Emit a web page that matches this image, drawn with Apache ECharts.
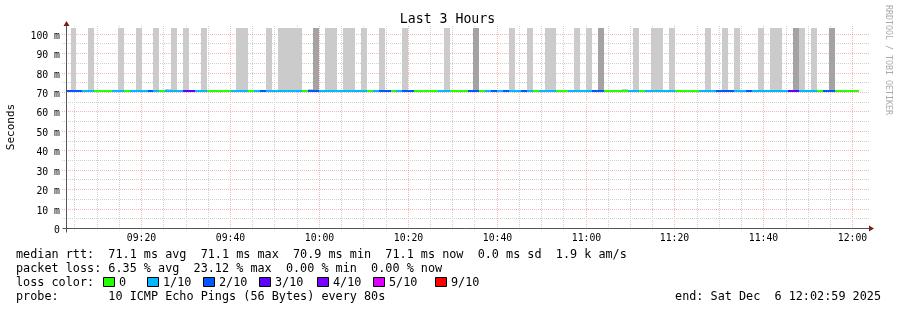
<!DOCTYPE html>
<html><head><meta charset="utf-8">
<script src="https://cdn.jsdelivr.net/npm/echarts@6/dist/echarts.min.js"></script>
<style>html,body{margin:0;padding:0;background:#fff;}#c{width:897px;height:310px;}</style>
</head><body><div id="c"></div>
<script>
// ---------------- data ----------------
const chartTitle = 'Last 3 Hours';
const yAxisName = 'Seconds';
const watermark = 'RRDTOOL / TOBI OETIKER';
const startTime = '09:02:59';
const endTime = '12:02:59';
const firstSampleTime = '09:04:00';
const stepSeconds = 80;
const xTickLabels = ['09:20','09:40','10:00','10:20','10:40','11:00','11:20','11:40','12:00'];
const yTickValues = [0,10,20,30,40,50,60,70,80,90,100];
const yTickLabels = ['0','10 m','20 m','30 m','40 m','50 m','60 m','70 m','80 m','90 m','100 m'];
const yTopValue = 103.19;

// median rtt per 80 s sample (ms)
const medianRtt = [
71.1,71.1,71.1,71.1,71.1,71.1,71.1,71.1,71.1,71.1,
71.1,71.1,71.1,71.1,71.1,71.1,71.1,71.1,71.1,71.1,
71.1,71.1,71.1,71.1,71.1,71.1,71.0,71.1,71.1,71.1,
71.1,71.1,71.1,71.1,71.1,71.1,71.1,71.1,71.1,71.1,
71.1,71.0,71.1,71.1,71.1,71.1,71.1,71.1,71.1,71.1,
71.1,71.1,71.1,71.1,71.1,71.1,71.1,71.1,71.1,71.1,
71.1,71.1,70.9,71.1,71.1,71.1,71.1,71.1,71.1,71.1,
71.1,71.1,71.1,71.1,71.1,71.1,71.1,71.1,71.1,71.1,
71.1,71.1,71.1,71.1,71.1,71.1,71.1,71.1,71.1,71.1,
71.1,71.1,71.1,71.1,71.0,71.1,71.1,71.1,71.1,71.1,
71.1,71.1,71.1,71.1,71.1,71.1,71.1,71.1,71.1,71.1,
71.1,71.1,71.1,71.1,71.1,71.1,71.1,71.1,71.1,71.1,
71.1,71.1,71.1,71.1,71.1,71.1,71.1,71.1,71.1,71.1,
71.1,71.1,71.1,71.1
];
// loss colour index of the median line per sample (0 = 0, 1 = 1/10, 2 = 2/10, 3 = 3/10 ...)
const lossLevel = [
2,2,2,1,1,0,0,0,1,1,
0,1,1,1,2,1,0,1,1,1,
3,3,1,1,0,0,0,0,1,1,
1,0,1,2,1,1,1,1,1,1,
0,2,2,1,1,1,1,1,1,1,
1,0,1,2,2,0,1,2,2,0,
0,0,0,1,1,0,0,0,2,2,
0,1,2,1,2,1,1,2,1,0,
1,1,1,0,0,1,1,1,1,2,
2,0,0,0,0,1,1,0,1,1,
1,1,1,0,0,0,0,1,1,1,
2,2,2,1,1,2,1,1,1,1,
1,1,3,3,1,1,1,0,2,2,
0,0,0,0
];
// lost pings per sample shown as smoke
const lostPings = [
0,1,0,0,1,0,0,0,0,1,
0,0,1,0,0,1,0,0,1,0,
1,0,0,1,0,0,0,0,0,1,
1,0,0,0,1,0,1,1,1,1,
0,0,2,0,1,1,0,1,1,0,
1,0,0,1,0,0,0,1,0,0,
0,0,0,0,1,0,0,0,0,2,
0,0,0,0,0,1,0,0,1,0,
0,1,1,0,0,0,1,0,1,0,
2,0,0,0,0,0,1,0,0,1,
1,0,1,0,0,0,0,0,1,0,
0,1,0,1,0,0,0,1,0,1,
1,0,0,2,1,0,1,0,0,2,
0,0,0,0
];
// samples whose slowest ping sits slightly above the median
const spreadCells = [17, 41, 94];
const spreadTop = [71.8, 71.8, 71.8];

const lossLabels = ['0','1/10','2/10','3/10','4/10','5/10','9/10'];
const medianStats = ['71.1 ms avg','71.1 ms max','70.9 ms min','71.1 ms now','0.0 ms sd','1.9 k am/s'];
const lossStats = ['6.35 % avg','23.12 % max','0.00 % min','0.00 % now'];
const probeText = '10 ICMP Echo Pings (56 Bytes) every 80s';
const endText = 'end: Sat Dec  6 12:02:59 2025';

// ---------------- styles / layout ----------------
const lossColors = ['#26ff00','#00b8ff','#0059ff','#5e00ff','#7e00ff','#dd00ff','#ff0000'];
const smokeColors = [null, '#cbcbcb', '#a3a3a3'];
const spreadColor = '#c8c8c8';
const gridColor = '#d0d0d0';
const mgridColor = 'rgba(240,110,110,0.5)';
const axisColor = '#555555';
const arrowColor = '#7d1c1c';
const MONO = '"DejaVu Sans Mono", monospace';
const legendX = 16;
const legendRowsY = [254.5, 268.5, 282.5, 296.5];
const swatchX = [103, 147, 203, 259, 317, 373, 435];

// ---------------- helpers ----------------
const toSec = s => { const p = s.split(':').map(Number); return p[0]*3600 + p[1]*60 + (p[2] || 0); };
const xMin = toSec(startTime), xMax = toSec(endTime);
const t0 = toSec(firstSampleTime);
const cells = medianRtt.map((m, i) => [t0 + stepSeconds*(i-1), m, t0 + stepSeconds*i, lossLevel[i], lostPings[i]]);
const spreadData = spreadCells.map((c, i) => [t0 + stepSeconds*(c-1), spreadTop[i], t0 + stepSeconds*c, medianRtt[c]]);
const xGrid = [];
for (let t = Math.ceil(xMin/300)*300; t <= xMax; t += 300) xGrid.push([t, t % 1200 === 0 ? 1 : 0]);
const yGrid = [];
for (let v = 5; v <= 100; v += 5) yGrid.push([xMin, v, v % 10 === 0 ? 1 : 0]);

const chart = echarts.init(document.getElementById('c'), null, {renderer: 'canvas', width: 897, height: 310});

const option = {
  animation: false,
  backgroundColor: '#ffffff',
  grid: {left: 66, top: 28, width: 800, height: 200.5, show: false},
  xAxis: {type: 'value', min: xMin, max: xMax, show: false},
  yAxis: {type: 'value', min: 0, max: yTopValue, show: false},
  series: [
    { // vertical grid
      type: 'custom', silent: true, z: 1, data: xGrid,
      renderItem(params, api) {
        const cs = params.coordSys;
        const x = Math.floor(api.coord([api.value(0), 0])[0]) + 0.5;
        return {type: 'line', shape: {x1: x, y1: cs.y - 2, x2: x, y2: cs.y + cs.height + 2},
          style: {stroke: api.value(1) ? mgridColor : gridColor, lineWidth: 1, lineDash: [1, 1]}};
      }
    },
    { // horizontal grid
      type: 'custom', silent: true, z: 1, data: yGrid,
      renderItem(params, api) {
        const cs = params.coordSys;
        const y = Math.floor(api.coord([xMin, api.value(1)])[1]) + 0.5;
        return {type: 'line', shape: {x1: cs.x - 4, y1: y, x2: cs.x + cs.width + 3, y2: y},
          style: {stroke: api.value(2) ? mgridColor : gridColor, lineWidth: 1, lineDash: [1, 1]}};
      }
    },
    { // smoke (lost pings)
      type: 'custom', silent: true, z: 2, data: cells,
      renderItem(params, api) {
        const lost = api.value(4);
        if (!lost) return null;
        const cs = params.coordSys;
        const a = api.coord([api.value(0), api.value(1)]);
        const b = api.coord([api.value(2), api.value(1)]);
        const x0 = Math.max(Math.round(a[0]), cs.x), x1 = Math.round(b[0]);
        const yb = Math.floor(a[1]);
        return {type: 'rect', shape: {x: x0, y: cs.y, width: x1 - x0, height: yb - cs.y},
          style: {fill: smokeColors[Math.min(lost, 2)]}};
      }
    },
    { // small ping spread
      type: 'custom', silent: true, z: 2, data: spreadData,
      renderItem(params, api) {
        const a = api.coord([api.value(0), api.value(1)]);
        const b = api.coord([api.value(2), api.value(3)]);
        const x0 = Math.round(a[0]), x1 = Math.round(b[0]);
        const yt = Math.round(a[1]), yb = Math.floor(b[1]);
        return {type: 'rect', shape: {x: x0, y: yt, width: x1 - x0, height: yb - yt}, style: {fill: spreadColor}};
      }
    },
    { // median line coloured by loss
      type: 'custom', silent: true, z: 3, data: cells,
      renderItem(params, api) {
        const cs = params.coordSys;
        const a = api.coord([api.value(0), api.value(1)]);
        const b = api.coord([api.value(2), api.value(1)]);
        const x0 = Math.max(Math.round(a[0]), cs.x), x1 = Math.round(b[0]);
        const y = Math.floor(a[1]);
        return {type: 'rect', shape: {x: x0, y: y, width: x1 - x0, height: 2},
          style: {fill: lossColors[api.value(3)]}};
      }
    },
    { // y tick labels
      type: 'custom', silent: true, z: 4, data: yTickValues.map((v, i) => [xMin, v, i]),
      renderItem(params, api) {
        const cs = params.coordSys;
        const y = Math.floor(api.coord([xMin, api.value(1)])[1]) + 2;
        return {type: 'text', x: cs.x - 6, y: y,
          style: {text: yTickLabels[api.value(2)], font: '9.8px ' + MONO, fill: '#000', align: 'right', verticalAlign: 'middle'}};
      }
    },
    { // x tick labels
      type: 'custom', silent: true, z: 4, data: xTickLabels.map((s, i) => [toSec(s), 0, i]),
      renderItem(params, api) {
        const cs = params.coordSys;
        const x = Math.floor(api.coord([api.value(0), 0])[0]) + 0.5;
        return {type: 'text', x: x, y: cs.y + cs.height + 10,
          style: {text: xTickLabels[api.value(2)], font: '9.8px ' + MONO, fill: '#000', align: 'center', verticalAlign: 'middle'}};
      }
    },
    { // axes with arrows
      type: 'custom', silent: true, z: 5, data: [[xMin, 0]],
      renderItem(params, api) {
        const cs = params.coordSys;
        const o = api.coord([xMin, 0]);
        const ax = Math.floor(o[0]) + 0.5, ay = Math.floor(o[1]) + 0.5;
        const right = cs.x + cs.width + 3, top = cs.y - 2;
        return {type: 'group', children: [
          {type: 'line', shape: {x1: ax, y1: ay + 4, x2: ax, y2: top}, style: {stroke: axisColor, lineWidth: 1}},
          {type: 'line', shape: {x1: ax - 4, y1: ay, x2: right, y2: ay}, style: {stroke: axisColor, lineWidth: 1}},
          {type: 'polygon', shape: {points: [[ax - 3, top], [ax + 3, top], [ax, top - 5]]}, style: {fill: arrowColor}},
          {type: 'polygon', shape: {points: [[right, ay - 3], [right, ay + 3], [right + 5, ay]]}, style: {fill: arrowColor}}
        ]};
      }
    }
  ],
  graphic: (function () {
    const g = [];
    const font = '11.8px ' + MONO;
    g.push({type: 'text', x: 447.5, y: 19.5, style: {text: chartTitle, font: '13.2px ' + MONO, fill: '#000', align: 'center', verticalAlign: 'middle'}});
    g.push({type: 'text', x: 11, y: 127, rotation: Math.PI/2, style: {text: yAxisName, font: '11px ' + MONO, fill: '#000', align: 'center', verticalAlign: 'middle'}});
    g.push({type: 'text', x: 888.5, y: 60, rotation: -Math.PI/2, style: {text: watermark, font: '8.3px ' + MONO, fill: '#aaaaaa', align: 'center', verticalAlign: 'middle'}});
    g.push({type: 'text', x: legendX, y: legendRowsY[0], style: {text: 'median rtt:  ' + medianStats.join('  '), font: font, fill: '#000', verticalAlign: 'middle'}});
    g.push({type: 'text', x: legendX, y: legendRowsY[1], style: {text: 'packet loss: ' + lossStats.join('  '), font: font, fill: '#000', verticalAlign: 'middle'}});
    g.push({type: 'text', x: legendX, y: legendRowsY[2], style: {text: 'loss color:', font: font, fill: '#000', verticalAlign: 'middle'}});
    lossLabels.forEach((lab, i) => {
      g.push({type: 'rect', shape: {x: swatchX[i] + 0.5, y: legendRowsY[2] - 5, width: 11, height: 9}, style: {fill: lossColors[i], stroke: '#000', lineWidth: 1}});
      g.push({type: 'text', x: swatchX[i] + 16, y: legendRowsY[2], style: {text: lab, font: font, fill: '#000', verticalAlign: 'middle'}});
    });
    g.push({type: 'text', x: legendX, y: legendRowsY[3], style: {text: 'probe:       ' + probeText, font: font, fill: '#000', verticalAlign: 'middle'}});
    g.push({type: 'text', x: 881, y: legendRowsY[3], style: {text: endText, font: font, fill: '#000', align: 'right', verticalAlign: 'middle'}});
    return g;
  })()
};
chart.setOption(option);
</script>
</body></html>
